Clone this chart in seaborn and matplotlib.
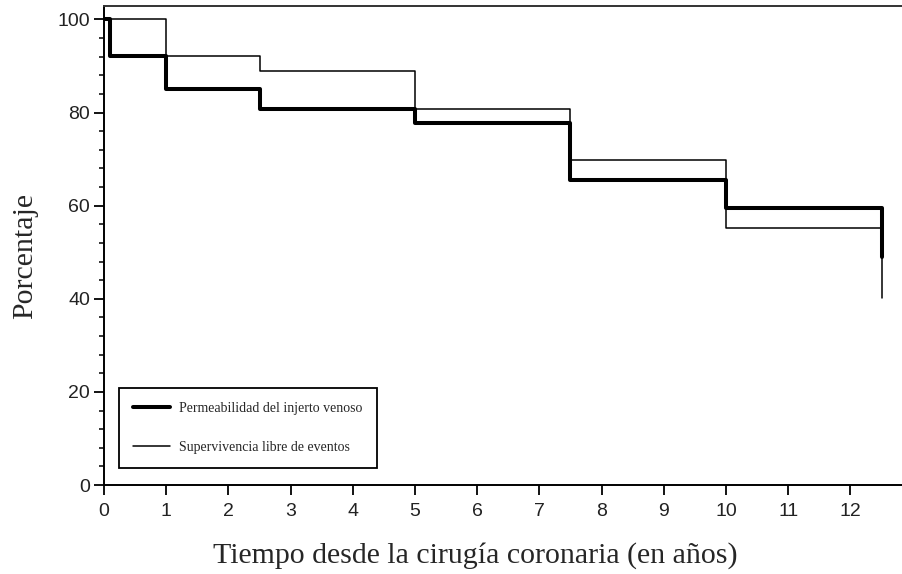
import matplotlib
matplotlib.use("Agg")
import matplotlib.pyplot as plt
from matplotlib.ticker import MultipleLocator
import pandas as pd
import seaborn as sns

# Kaplan-Meier style step curves (percent vs. years since surgery)
permeabilidad_t = [0, 0.1, 1, 2.5, 5, 7.5, 10, 12.5]
permeabilidad_pct = [100, 92.1, 85.0, 80.7, 77.7, 65.6, 59.4, 49.0]

supervivencia_t = [0, 1, 2.5, 5, 7.5, 10, 12.5]
supervivencia_pct = [100, 92.1, 89.0, 80.7, 69.8, 55.2, 40.1]

x_ticks = list(range(0, 13))
y_ticks = [0, 20, 40, 60, 80, 100]

label_perm = "Permeabilidad del injerto venoso"
label_sup = "Supervivencia libre de eventos"

sns.set_style("ticks")
plt.rcParams["font.family"] = ["Liberation Sans", "DejaVu Sans"]

fig = plt.figure(figsize=(9.03, 5.74), dpi=100)
ax = fig.add_axes([104 / 903, 1 - 485 / 574, 1 - 104 / 903, (485 - 6) / 574])

df_perm = pd.DataFrame({"t": permeabilidad_t, "pct": permeabilidad_pct})
df_sup = pd.DataFrame({"t": supervivencia_t, "pct": supervivencia_pct})

sns.lineplot(data=df_perm, x="t", y="pct", ax=ax, estimator=None,
             drawstyle="steps-post", color="black", linewidth=2.9,
             label=label_perm)
sns.lineplot(data=df_sup, x="t", y="pct", ax=ax, estimator=None,
             drawstyle="steps-post", color="black", linewidth=1.1,
             label=label_sup)

ax.set_xlim(0, (903 - 104) / 62.2)
ax.set_ylim(0, 102.9)
ax.set_xticks(x_ticks)
ax.set_yticks(y_ticks)
ax.yaxis.set_minor_locator(MultipleLocator(4))

ax.spines["right"].set_visible(False)
for side in ("left", "bottom", "top"):
    ax.spines[side].set_linewidth(1.4)
    ax.spines[side].set_color("black")
ax.spines["top"].set_color("#333333")

ax.tick_params(axis="both", which="major", direction="out", length=7,
               width=1.3, color="black", labelsize=14, pad=3,
               labelcolor="#222222")
ax.tick_params(axis="x", which="major", pad=6)
ax.tick_params(axis="y", which="minor", direction="out", length=3.5,
               width=1.1, color="black")
ax.tick_params(axis="x", which="minor", length=0)
ax.tick_params(top=False, right=False)

serif = ["Liberation Serif", "DejaVu Serif"]
ax.set_xlabel("Tiempo desde la cirugía coronaria (en años)", fontsize=21.5,
              family=serif)
ax.set_ylabel("Porcentaje", fontsize=21.5, family=serif)
ax.xaxis.set_label_coords((475 - 104) / 799, -(542 - 485) / 479)
ax.yaxis.set_label_coords(-(104 - 38) / 799, (485 - 256) / 479)

leg = ax.legend(loc="lower left", bbox_to_anchor=((119 - 104) / 799, (485 - 468) / 479),
                prop={"family": serif, "size": 10}, frameon=True, fancybox=False,
                shadow=False, framealpha=1, edgecolor="black", borderpad=1.0,
                labelspacing=1.9, handlelength=2.65, handletextpad=0.7,
                borderaxespad=0)
leg.get_frame().set_linewidth(1.3)

fig.savefig("out.png", dpi=100)
